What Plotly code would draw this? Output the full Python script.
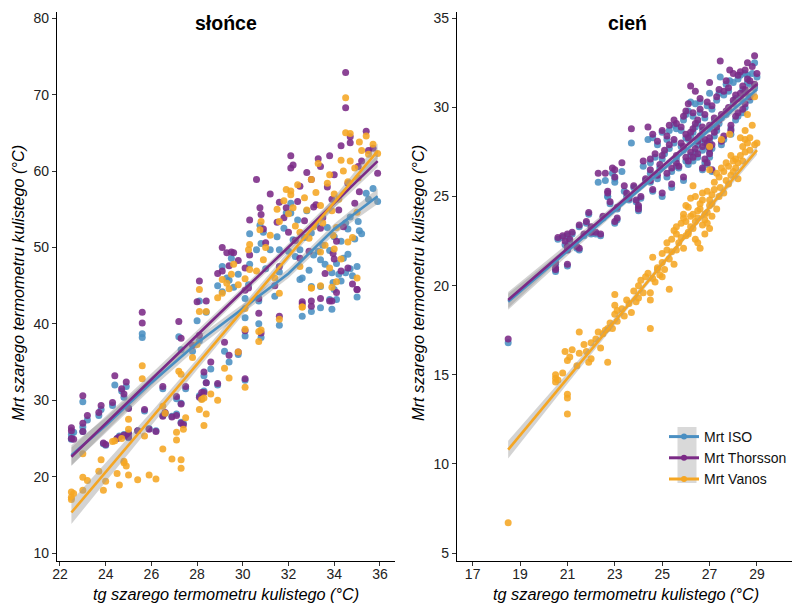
import plotly.graph_objects as go

# ---------------- data: "słońce" panel (sun) ----------------
sun_tg = [
    22.5, 22.5, 22.5, 22.6, 23.0, 23.0, 23.0, 23.2, 23.7, 23.8,
    23.9, 24.0, 24.3, 24.4, 24.5, 24.6, 24.7, 24.8, 24.8, 24.9,
    25.0, 25.0, 25.0, 25.4, 25.6, 25.6, 25.7, 25.9, 26.2, 26.5,
    26.5, 26.6, 26.9, 27.1, 27.1, 27.2, 27.3, 27.3, 27.3, 27.4,
    27.5, 27.8, 28.0, 28.1, 28.1, 28.2, 28.3, 28.3, 28.4, 28.6,
    28.9, 29.2, 29.4, 29.8, 30.1, 30.1, 30.7, 30.8, 31.6, 32.6,
    33.0, 33.4, 33.9, 34.1, 35.0, 28.1, 28.4, 28.9, 29.1, 29.1,
    29.3, 29.4, 29.5, 29.6, 29.8, 30.1, 30.1, 30.25, 30.3, 30.3,
    30.6, 30.7, 30.75, 30.8, 30.9, 31.0, 31.2, 31.4, 31.5, 31.6,
    31.6, 31.8, 31.9, 32.0, 32.1, 32.1, 32.2, 32.3, 32.4, 32.5,
    32.5, 32.6, 32.7, 32.8, 32.9, 33.0, 33.0, 33.1, 33.2, 33.3,
    33.4, 33.4, 33.5, 33.6, 33.7, 33.8, 33.8, 33.9, 33.95, 34.0,
    34.0, 34.1, 34.2, 34.3, 34.3, 34.4, 34.5, 34.5, 34.6, 34.6,
    34.7, 34.7, 34.8, 34.9, 35.0, 35.05, 35.1, 35.2, 35.4, 35.5,
    35.7, 35.9]
sun_iso = [
    25.5, 25.0, 24.9, 25.8, 29.8, 26.5, 25.9, 27.4, 28.0, 28.8,
    24.3, 24.1, 29.3, 32.0, 25.0, 25.3, 31.2, 30.4, 25.5, 31.8,
    25.7, 29.0, 25.1, 26.0, 38.7, 38.2, 28.6, 26.3, 26.0, 31.5,
    28.0, 28.3, 27.9, 30.2, 28.2, 38.3, 36.6, 29.6, 27.1, 27.0,
    31.5, 36.4, 40.4, 37.8, 30.6, 30.2, 33.2, 31.2, 32.3, 34.1,
    32.0, 36.4, 35.0, 36.0, 32.6, 38.4, 40.0, 38.2, 39.8, 41.0,
    41.6, 42.1, 41.9, 43.2, 43.5, 43.0, 41.5, 45.0, 44.2, 47.5,
    46.0, 45.7, 48.6, 44.8, 46.5, 40.8, 43.3, 45.1, 51.8, 47.8,
    49.7, 43.0, 52.9, 50.5, 52.0, 47.2, 49.7, 43.6, 51.4, 49.7,
    46.8, 52.5, 54.5, 49.5, 55.8, 54.5, 51.0, 48.8, 53.6, 49.7,
    45.8, 46.0, 51.3, 54.8, 47.0, 51.9, 44.9, 49.0, 53.0, 49.5,
    48.4, 44.9, 50.3, 47.8, 52.6, 43.2, 49.6, 46.7, 45.4, 44.5,
    51.4, 47.9, 46.5, 50.8, 45.6, 48.6, 53.2, 46.7, 49.1, 52.4,
    47.2, 54.0, 46.3, 51.1, 47.5, 53.4, 52.2, 51.8, 57.1, 56.3,
    57.7, 56.0]
sun_thor = [
    26.4, 26.0, 25.0, 24.9, 30.6, 27.0, 25.9, 28.0, 28.4, 29.3,
    24.4, 24.2, 29.7, 33.2, 25.0, 25.2, 31.5, 30.8, 25.4, 32.4,
    25.6, 28.9, 25.2, 26.0, 41.5, 40.1, 28.8, 26.2, 25.9, 31.8,
    27.9, 28.4, 27.8, 30.5, 28.0, 40.3, 38.1, 29.5, 27.0, 26.8,
    31.8, 37.2, 42.9, 38.5, 30.4, 31.0, 33.7, 31.0, 32.3, 35.0,
    32.2, 37.6, 35.9, 36.3, 32.8, 39.1, 41.4, 38.8, 41.0, 42.6,
    42.3, 43.3, 43.0, 44.1, 44.5, 45.6, 43.0, 46.6, 46.9, 50.0,
    49.3, 47.6, 49.4, 49.3, 48.3, 47.3, 44.4, 44.7, 53.6, 49.0,
    58.9, 43.3, 55.2, 54.3, 52.4, 50.6, 57.0, 45.0, 53.3, 55.9,
    47.5, 53.9, 55.2, 52.0, 62.0, 60.4, 60.8, 50.9, 56.0, 58.0,
    48.6, 42.9, 53.5, 59.8, 49.5, 58.9, 43.0, 55.3, 55.6, 61.6,
    60.6, 52.5, 53.9, 46.6, 57.9, 43.0, 62.0, 56.3, 49.2, 48.5,
    59.5, 50.8, 54.9, 63.3, 46.9, 52.7, 72.9, 68.3, 47.3, 58.4,
    64.5, 63.7, 45.2, 55.8, 44.5, 60.6, 57.3, 61.3, 65.2, 62.7,
    63.0, 59.7]
sun_van = [
    18.0, 17.3, 17.0, 17.8, 19.9, 18.2, 23.0, 19.5, 20.7, 22.2,
    18.2, 19.4, 24.6, 24.7, 20.4, 18.9, 25.0, 21.8, 22.0, 21.4,
    26.2, 27.5, 20.2, 19.6, 34.5, 32.8, 25.3, 20.2, 19.7, 29.2,
    23.6, 28.3, 22.3, 25.8, 24.8, 33.8, 33.4, 21.1, 22.2, 26.2,
    27.7, 35.6, 37.3, 41.6, 28.8, 30.1, 30.3, 26.7, 28.2, 30.8,
    30.0, 34.2, 32.9, 36.3, 31.7, 39.3, 37.7, 39.2, 40.6, 42.2,
    44.7, 45.0, 44.8, 45.5, 46.0, 44.5, 41.6, 43.4, 45.8, 44.0,
    45.3, 44.6, 46.5, 47.8, 45.1, 42.0, 45.9, 49.7, 50.4, 47.1,
    46.9, 39.0, 52.3, 53.4, 48.4, 50.0, 51.6, 46.0, 55.0, 53.4,
    44.0, 56.1, 57.6, 54.4, 57.4, 56.9, 55.2, 52.8, 58.2, 52.0,
    47.5, 42.2, 56.5, 54.9, 51.2, 58.9, 44.7, 52.7, 57.2, 61.0,
    55.5, 49.4, 53.2, 50.3, 58.4, 47.3, 59.5, 54.8, 51.6, 49.8,
    57.0, 52.6, 56.3, 61.4, 48.5, 60.0, 69.6, 65.0, 50.7, 58.6,
    61.3, 64.9, 51.3, 60.4, 54.6, 59.1, 63.8, 62.7, 64.6, 62.2,
    63.5, 62.3]

# smoothed fits (line value and half-width of the band)
sun_fit_x = [22.5, 24, 26, 28, 30, 32, 34, 35.9]
sun_fit_iso = [22.8, 26.7, 32.3, 37.5, 42.0, 46.6, 52.4, 56.7]
sun_fit_iso_se = [1.3, 1.0, 0.8, 0.7, 0.6, 0.6, 0.7, 1.0]
sun_fit_thor = [22.6, 26.9, 32.7, 38.5, 44.3, 50.0, 55.8, 61.3]
sun_fit_thor_se = [1.2, 1.0, 0.8, 0.6, 0.5, 0.5, 0.6, 0.8]
sun_fit_van = [15.3, 20.6, 27.6, 34.7, 41.8, 48.9, 55.9, 62.6]
sun_fit_van_se = [1.5, 1.2, 0.9, 0.7, 0.6, 0.6, 0.7, 1.0]

# ---------------- data: "cień" panel (shade) ----------------
shade_tg = [
    18.5, 20.5, 20.5, 20.5, 20.6, 20.8, 20.9, 21.0, 21.0, 21.0,
    21.0, 21.1, 21.2, 21.4, 21.5, 21.5, 21.7, 21.9, 22.0, 22.0,
    22.2, 22.3, 22.5, 22.6, 22.7, 22.7, 22.9, 23.0, 23.0, 23.0,
    23.1, 23.1, 23.3, 23.5, 23.7, 23.8, 23.9, 24.0, 24.0, 24.1,
    24.2, 24.3, 24.4, 24.5, 24.5, 24.5, 24.6, 24.7, 24.8, 24.9,
    25.0, 25.0, 25.1, 25.2, 25.3, 25.3, 25.4, 25.5, 25.6, 25.6,
    25.7, 25.8, 25.9, 25.9, 26.0, 26.0, 26.1, 26.1, 26.2, 26.2,
    26.3, 26.3, 26.4, 26.4, 26.5, 26.5, 26.6, 26.6, 26.7, 26.7,
    26.8, 26.8, 26.9, 26.9, 27.0, 27.0, 27.0, 27.1, 27.1, 27.2,
    27.3, 27.4, 27.45, 27.5, 27.6, 27.7, 27.8, 27.85, 27.9, 28.0,
    28.1, 28.2, 28.3, 28.4, 28.5, 28.5, 28.6, 28.7, 28.9, 29.0,
    24.6, 24.8, 25.0, 25.2, 25.4, 25.5, 25.6, 25.8, 25.9, 26.0,
    26.1, 26.2, 26.3, 26.4, 26.5, 26.6, 26.7, 26.8, 26.9, 27.0,
    27.0, 27.1, 27.2, 27.3, 27.4, 27.5, 27.6, 27.7, 27.8, 27.9,
    28.0, 28.1, 28.2, 28.3, 28.4, 28.5, 28.6, 28.7, 28.8, 28.9,
    23.4, 23.6, 22.8, 22.4, 21.8]
shade_thor = [
    17.0, 21.0, 21.3, 20.9, 22.7, 22.8, 22.5, 22.9, 22.2, 21.2,
    22.0, 22.6, 23.0, 22.2, 22.1, 23.4, 22.9, 24.1, 23.0, 23.3,
    23.0, 26.3, 23.9, 26.3, 25.2, 25.3, 26.6, 26.5, 26.1, 23.6,
    24.4, 23.8, 26.9, 25.2, 28.8, 25.6, 24.8, 24.5, 24.3, 25.0,
    27.0, 26.0, 28.9, 27.1, 25.9, 26.5, 28.5, 27.4, 28.1, 26.8,
    25.2, 28.7, 27.6, 26.3, 29.0, 27.9, 26.6, 28.2, 27.3, 29.1,
    26.7, 28.0, 27.8, 29.5, 28.5, 27.2, 28.3, 30.2, 31.2, 27.5,
    28.8, 29.7, 27.7, 30.9, 28.1, 29.3, 28.4, 30.5, 27.8, 28.9,
    27.1, 29.6, 26.9, 28.0, 31.4, 29.0, 27.4, 26.5, 30.1, 28.6,
    30.6, 29.3, 32.6, 28.1, 30.9, 29.8, 31.1, 32.1, 28.7, 30.4,
    29.5, 31.8, 30.8, 29.9, 31.0, 32.1, 32.5, 31.5, 32.9, 31.9,
    25.4, 26.2, 27.3, 28.4, 25.7, 29.3, 26.9, 28.9, 26.1, 29.8,
    27.0, 28.6, 27.2, 29.1, 27.4, 29.9, 26.6, 28.2, 30.3, 27.7,
    28.3, 27.9, 29.4, 28.9, 31.0, 29.6, 28.4, 31.5, 30.0, 29.0,
    31.9, 30.7, 29.7, 32.0, 31.2, 30.2, 31.6, 30.6, 32.3, 31.3,
    25.6, 24.9, 24.7, 22.9, 23.6]
shade_iso = [
    16.8, 20.9, 21.2, 20.8, 22.6, 22.7, 22.3, 22.8, 22.1, 21.1,
    22.0, 22.5, 22.9, 22.1, 22.0, 23.3, 22.8, 24.0, 22.9, 23.2,
    22.9, 25.8, 23.8, 25.9, 25.0, 25.0, 26.3, 26.0, 25.8, 23.5,
    24.3, 23.7, 26.4, 25.0, 28.0, 25.5, 24.7, 24.4, 24.2, 24.9,
    26.7, 25.9, 28.2, 26.9, 25.8, 26.3, 28.3, 27.2, 27.9, 26.6,
    25.0, 28.6, 27.4, 26.1, 28.7, 27.7, 26.4, 28.0, 27.1, 28.8,
    26.6, 27.8, 27.6, 29.3, 28.3, 27.0, 28.2, 29.8, 30.3, 27.3,
    28.6, 29.5, 27.5, 30.2, 27.9, 29.1, 28.2, 30.3, 27.6, 28.7,
    26.9, 29.4, 26.8, 27.8, 30.8, 28.8, 27.2, 26.4, 29.9, 28.4,
    30.4, 29.1, 31.7, 27.9, 30.7, 29.6, 30.9, 31.5, 28.5, 30.2,
    29.3, 31.6, 30.5, 29.7, 30.8, 31.9, 31.8, 31.3, 32.5, 31.7,
    25.3, 26.0, 27.1, 28.2, 25.5, 29.0, 26.7, 28.7, 25.9, 29.6,
    26.8, 28.4, 27.0, 28.9, 27.2, 29.7, 26.5, 28.0, 30.1, 27.5,
    28.1, 27.7, 29.2, 28.7, 30.8, 29.4, 28.2, 31.3, 29.8, 28.8,
    31.4, 30.5, 29.5, 31.8, 31.0, 30.0, 31.4, 30.4, 31.9, 31.1,
    25.3, 24.8, 24.6, 22.8, 23.5]
shade_van = [
    6.7, 14.6, 14.8, 15.0, 14.7, 15.1, 16.3, 12.8, 13.7, 13.9,
    15.8, 16.0, 16.4, 15.5, 17.4, 16.2, 16.7, 15.7, 15.9, 16.8,
    17.0, 17.4, 17.3, 17.5, 15.7, 17.6, 17.6, 18.4, 18.9, 19.5,
    18.6, 18.0, 18.7, 19.2, 18.5, 19.7, 19.1, 19.3, 20.0, 20.3,
    19.6, 20.5, 20.7, 17.6, 19.2, 19.6, 20.4, 20.2, 21.0, 20.6,
    20.5, 21.3, 20.9, 22.0, 19.8, 21.5, 22.6, 21.2, 22.9, 23.3,
    22.4, 23.5, 22.1, 24.0, 23.6, 22.8, 24.4, 23.0, 23.9, 24.9,
    25.6, 23.2, 25.0, 22.6, 24.2, 23.8, 24.6, 22.1, 23.4, 24.8,
    23.7, 22.9, 24.1, 25.3, 27.8, 26.5, 24.5, 23.9, 25.1, 25.8,
    24.3, 26.1, 25.5, 28.2, 26.4, 25.9, 26.7, 28.5, 26.2, 27.0,
    26.6, 26.9, 27.3, 27.8, 28.7, 28.2, 29.6, 27.6, 30.6, 28.0,
    21.6, 20.9, 21.8, 22.4, 21.9, 23.1, 22.0, 22.7, 23.8, 24.5,
    22.9, 23.3, 24.0, 23.6, 22.4, 24.3, 25.2, 24.0, 23.5, 24.8,
    23.2, 24.6, 25.4, 26.3, 25.0, 26.6, 25.2, 26.9, 25.7, 27.3,
    26.4, 27.1, 26.0, 28.3, 27.0, 27.5, 28.0, 28.3, 29.0, 27.9,
    18.3, 19.0, 17.9, 16.5, 16.3]

shade_fit_x = [18.5, 21, 23.5, 26, 29]
shade_fit_iso = [19.1, 21.93, 24.77, 27.6, 31.0]
shade_fit_iso_se = [0.45, 0.25, 0.15, 0.12, 0.25]
shade_fit_thor = [19.2, 22.1, 24.96, 27.84, 31.3]
shade_fit_thor_se = [0.45, 0.25, 0.15, 0.12, 0.25]
shade_fit_van = [10.8, 14.8, 18.8, 22.8, 27.6]
shade_fit_van_se = [0.5, 0.3, 0.18, 0.15, 0.25]

series_names = ["Mrt ISO", "Mrt Thorsson", "Mrt Vanos"]
series_colors = ["#4A8FC2", "#7B2A86", "#F5A623"]

FONT = "Liberation Sans, Arial, sans-serif"
BAND = "rgba(150,150,150,0.42)"

# page offset of the figure (default body margin of the html page)
OFF = 8
# plot-area geometry in page pixels
L, R, T, B = 57, 797, 12, 561
W, H = R - L, B - T


def px(xp):
    return (xp - L) / W


def py(yp):
    return (B - yp) / H


fig = go.Figure()

panels = [
    ("x", "y", sun_tg, [sun_iso, sun_thor, sun_van], sun_fit_x,
     [sun_fit_iso, sun_fit_thor, sun_fit_van],
     [sun_fit_iso_se, sun_fit_thor_se, sun_fit_van_se]),
    ("x2", "y2", shade_tg, [shade_iso, shade_thor, shade_van], shade_fit_x,
     [shade_fit_iso, shade_fit_thor, shade_fit_van],
     [shade_fit_iso_se, shade_fit_thor_se, shade_fit_van_se]),
]

for xa, ya, tg, ys, fx, fys, fses in panels:
    for yv, col in zip(ys, series_colors):
        fig.add_trace(go.Scatter(
            x=tg, y=yv, mode="markers", xaxis=xa, yaxis=ya, showlegend=False,
            marker=dict(color=col, size=7, opacity=0.88, line=dict(width=0)),
            hoverinfo="skip"))
    for fy, fse in zip(fys, fses):
        up = [a + b for a, b in zip(fy, fse)]
        lo = [a - b for a, b in zip(fy, fse)]
        fig.add_trace(go.Scatter(
            x=fx + fx[::-1], y=up + lo[::-1], mode="lines", fill="toself",
            fillcolor=BAND, line=dict(width=0), xaxis=xa, yaxis=ya,
            showlegend=False, hoverinfo="skip"))
    for fy, col in zip(fys, series_colors):
        fig.add_trace(go.Scatter(
            x=fx, y=fy, mode="lines", line=dict(color=col, width=2.6),
            xaxis=xa, yaxis=ya, showlegend=False, hoverinfo="skip"))

for nm, col in zip(series_names, series_colors):
    fig.add_trace(go.Scatter(
        x=[None], y=[None], mode="lines+markers", name=nm,
        line=dict(color=col, width=3), marker=dict(color=col, size=6),
        xaxis="x2", yaxis="y2"))

axis_common = dict(
    showgrid=False, zeroline=False, showline=True, linecolor="black",
    linewidth=1.3, ticks="outside", ticklen=4, tickwidth=1.1, automargin=False,
    tickcolor="#333333", tickfont=dict(family=FONT, size=14, color="#222222"))
x_extra = dict(ticklabelstandoff=-4)


def ann(text, xp, yp, size, angle=0):
    return dict(text=text, x=px(xp), y=py(yp), xref="paper", yref="paper",
                xanchor="center", yanchor="middle", showarrow=False,
                textangle=angle, font=dict(family=FONT, size=size, color="black"))


fig.update_layout(
    width=800, height=605,
    margin=dict(l=L - OFF, r=800 - R + OFF, t=T - OFF, b=605 - B + OFF,
                autoexpand=False),
    paper_bgcolor="white", plot_bgcolor="white",
    font=dict(family=FONT),
    xaxis=dict(domain=[px(57), px(395)], range=[21.87, 36.66],
               tickvals=[22, 24, 26, 28, 30, 32, 34, 36], anchor="y",
               **axis_common, **x_extra),
    yaxis=dict(domain=[0, 1], range=[8.953, 80.82],
               tickvals=[10, 20, 30, 40, 50, 60, 70, 80], anchor="x", **axis_common),
    xaxis2=dict(domain=[px(457), px(797)], range=[16.34, 30.69],
                tickvals=[17, 19, 21, 23, 25, 27, 29], anchor="y2",
                **axis_common, **x_extra),
    yaxis2=dict(domain=[0, 1], range=[4.551, 35.353],
                tickvals=[5, 10, 15, 20, 25, 30, 35], anchor="x2", **axis_common),
    legend=dict(x=px(664), y=py(421), xanchor="left", yanchor="top",
                bgcolor="rgba(0,0,0,0)", font=dict(family=FONT, size=14, color="#111"),
                itemwidth=30, tracegroupgap=0),
    shapes=[dict(type="rect", xref="paper", yref="paper",
                 x0=px(677.5), x1=px(696.5), y0=py(483), y1=py(427),
                 fillcolor="#D9D9D9", line=dict(width=0), layer="below")],
    annotations=[
        ann("<b>słońce</b>", 226, 22.5, 19.5),
        ann("<b>cień</b>", 627, 22.5, 19.5),
        ann("<i>tg szarego termometru kulistego (°C)</i>", 226, 594, 16.3),
        ann("<i>tg szarego termometru kulistego (°C)</i>", 626, 594, 16.3),
        ann("<i>Mrt szarego termometru kulistego (°C)</i>", 18, 283, 16.3, -90),
        ann("<i>Mrt szarego termometru kulistego (°C)</i>", 418, 283, 16.3, -90),
    ],
)

fig.write_html("out.html")
